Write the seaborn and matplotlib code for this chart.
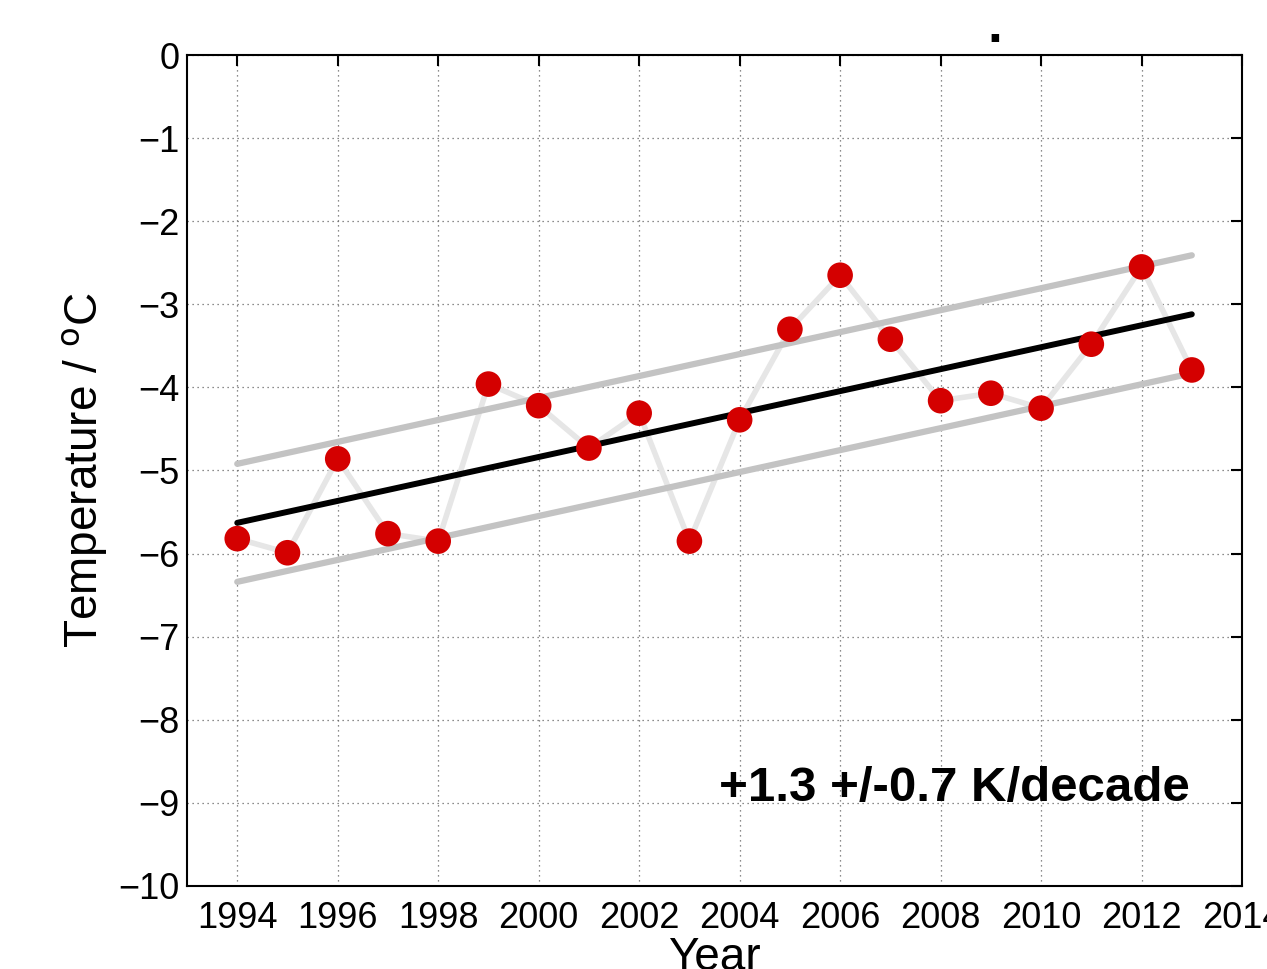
import numpy as np
import pandas as pd
import matplotlib
matplotlib.use("Agg")
import matplotlib.pyplot as plt
import seaborn as sns

years = [1994, 1995, 1996, 1997, 1998, 1999, 2000, 2001, 2002, 2003,
         2004, 2005, 2006, 2007, 2008, 2009, 2010, 2011, 2012, 2013]
temps = [-5.82, -5.99, -4.86, -5.76, -5.85, -3.96, -4.22, -4.73, -4.31, -5.85,
         -4.39, -3.30, -2.65, -3.42, -4.16, -4.07, -4.25, -3.48, -2.55, -3.79]

trend_years = [1994, 2013]
trend_mid = [-5.63, -3.12]
trend_upper = [-4.92, -2.41]
trend_lower = [-6.34, -3.83]

xticks = list(range(1994, 2015, 2))
yticks = list(range(-10, 1, 1))
annotation = "+1.3 +/-0.7 K/decade"

sns.set_theme(style="white")
plt.rcParams['font.family'] = ['Liberation Sans', 'DejaVu Sans']
plt.rcParams['text.color'] = 'black'
plt.rcParams['axes.labelcolor'] = 'black'

df = pd.DataFrame({"Year": years, "Temperature": temps})
tr = pd.DataFrame({"Year": trend_years, "mid": trend_mid,
                   "up": trend_upper, "lo": trend_lower})

fig = plt.figure(figsize=(12.67, 9.69), dpi=100)
ax = fig.add_axes([0.1476, 0.0857, 0.8327, 0.8575])

sns.lineplot(data=df, x="Year", y="Temperature", ax=ax, color="#e6e6e6",
             linewidth=4.0, zorder=2)
sns.lineplot(data=tr, x="Year", y="up", ax=ax, color="#c3c3c3", linewidth=4.5, zorder=3)
sns.lineplot(data=tr, x="Year", y="lo", ax=ax, color="#c3c3c3", linewidth=4.5, zorder=3)
sns.lineplot(data=tr, x="Year", y="mid", ax=ax, color="black", linewidth=4.3, zorder=4)
sns.scatterplot(data=df, x="Year", y="Temperature", ax=ax, color="#d40000",
                s=340, edgecolor="none", zorder=5)

ax.set_xlim(1993, 2014)
ax.set_ylim(-10, 0)
ax.set_xticks(xticks)
ax.set_yticks(yticks)
ax.set_xticklabels([str(t) for t in xticks])
ax.set_yticklabels([str(t).replace('-', '\u2212') for t in yticks])
ax.grid(True, linestyle=(0, (1, 3)), color="#666666", linewidth=0.9)
ax.tick_params(axis='both', direction='in', length=8, width=1.5, labelsize=26,
               top=True, right=True, colors='black', labelcolor='black')
ax.tick_params(axis='x', pad=11)
ax.tick_params(axis='y', pad=5.5)
for s in ax.spines.values():
    s.set_color('black')
    s.set_linewidth(1.5)

ax.set_xlabel("Year", fontsize=33, labelpad=0)
ax.set_ylabel("Temperature / $^{\\rm o}$C", fontsize=33, labelpad=6)

ax.text(0.95, 0.117, annotation, transform=ax.transAxes, ha='right', va='center',
        fontsize=35.5, fontweight='bold', color='black')
ax.text(0.766, 1.003, ".", transform=ax.transAxes, ha='center', va='bottom',
        fontsize=38, fontweight='bold', color='black')

fig.savefig("out.png", dpi=100)
